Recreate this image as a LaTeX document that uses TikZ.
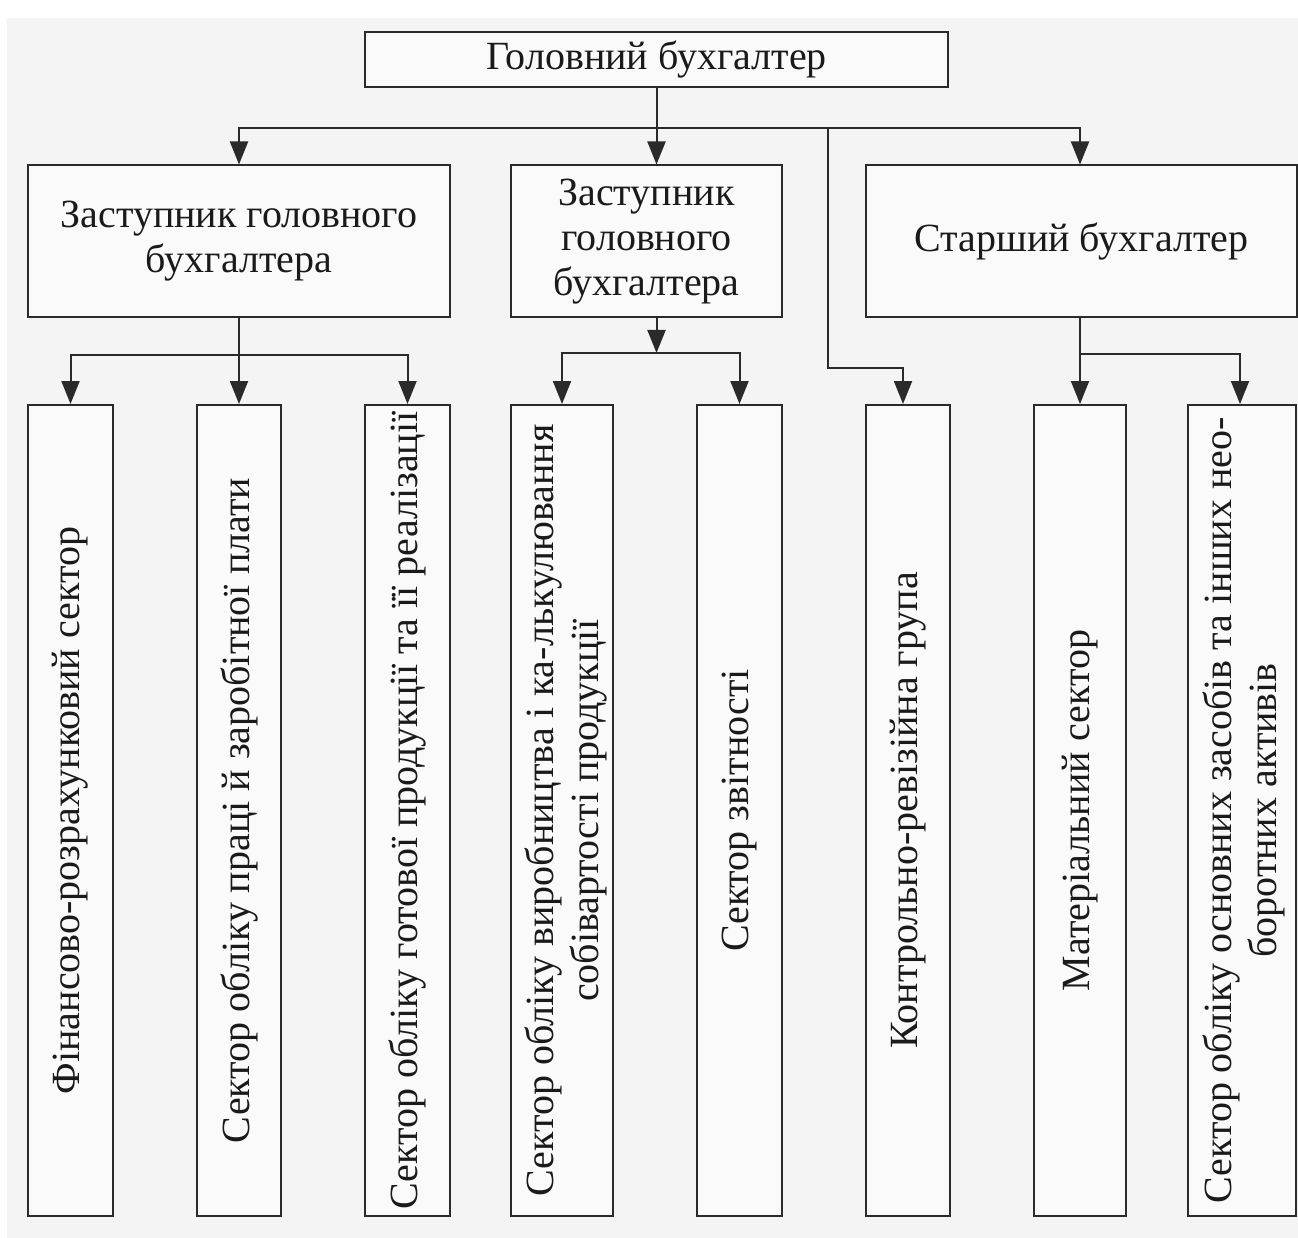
\documentclass[tikz,border=0pt]{standalone}
\usepackage{fontspec}
\setmainfont{Liberation Serif}
\usetikzlibrary{arrows.meta}
\definecolor{bgc}{HTML}{F4F4F4}
\definecolor{boxfill}{HTML}{FAFAFA}
\definecolor{linec}{HTML}{2A2A2A}
\definecolor{txt}{HTML}{1A1A1A}
\begin{document}
\begin{tikzpicture}[x=1pt,y=-1pt,
  box/.style={draw=linec, line width=2pt, fill=boxfill, inner sep=0pt, text=txt},
  htext/.style={align=center, font=\fontsize{40}{45}\selectfont},
  vtext/.style={rotate=90, align=center, text=txt, inner sep=0pt, font=\fontsize{40}{45}\selectfont},
  arr/.style={draw=linec, line width=2pt, -{Triangle[length=23pt,width=18pt]}},
  ln/.style={draw=linec, line width=2pt}]
\useasboundingbox (0,0) rectangle (1298,1238);
\fill[white] (0,0) rectangle (1298,1238);
\fill[bgc] (7,18) rectangle (1298,1238);
% level 1
\node[box, htext, minimum width=583pt, minimum height=55pt] (top) at (656.5,59.5) {Головний бухгалтер};
% level 2
\node[box, htext, minimum width=422pt, minimum height=152pt] (A) at (239,241.5) {Заступник головного\\бухгалтера};
\node[box, htext, minimum width=271pt, minimum height=152pt] (B) at (646.5,241.5) {Заступник\\головного\\бухгалтера};
\node[box, htext, minimum width=431pt, minimum height=152pt] (C) at (1081.5,241.5) {Старший бухгалтер};
% level 3
\node[box, minimum width=85pt,  minimum height=811pt] (s1) at (70.5,810.5) {};
\node[box, minimum width=84pt,  minimum height=811pt] (s2) at (239,810.5) {};
\node[box, minimum width=85pt,  minimum height=811pt] (s3) at (407.5,810.5) {};
\node[box, minimum width=102pt, minimum height=811pt] (s4) at (562,810.5) {};
\node[box, minimum width=85pt,  minimum height=811pt] (s5) at (739.5,810.5) {};
\node[box, minimum width=84pt,  minimum height=811pt] (s6) at (908,810.5) {};
\node[box, minimum width=92pt,  minimum height=811pt] (s7) at (1080,810.5) {};
\node[box, minimum width=108pt, minimum height=811pt] (s8) at (1242,810.5) {};
\node[vtext] (t1) at (s1.center) {Фінансово-розрахунковий сектор};
\node[vtext] (t2) at (s2.center) {Сектор обліку праці й заробітної плати};
\node[vtext] (t3) at (s3.center) {Сектор обліку готової продукції та її реалізації};
\node[vtext] (t4) at ([xshift=4pt]s4.center) {Сектор обліку виробництва і ка-лькулювання\\собівартості продукції};
\node[vtext] (t5) at (s5.center) {Сектор звітності};
\node[vtext] (t6) at (s6.center) {Контрольно-ревізійна група};
\node[vtext] (t7) at (s7.center) {Матеріальний сектор};
\node[vtext] (t8) at ([xshift=2pt]s8.center) {Сектор обліку основних засобів та інших нео-\\боротних активів};
% helper coordinates
\coordinate (busT) at (0,128);
\coordinate (busA) at (0,355);
\coordinate (busB) at (0,353);
\coordinate (busC) at (0,354);
\coordinate (kx) at (828,0);
\coordinate (ky) at (0,368);
\coordinate (k6) at (903,0);
\coordinate (c8) at (1240,0);
% connectors from top
\draw[arr] (top.south) -- (top.south |- B.north);
\draw[arr] (top.south |- busT) -| (A.north);
\draw[arr] (top.south |- busT) -| (C.north -| s7.north);
\draw[arr] (kx |- busT) |- (k6 |- ky) -- (k6 |- s6.north);
% A
\draw[arr] (A.south) -- (A.south |- s2.north);
\draw[arr] (A.south |- busA) -| (s1.north);
\draw[arr] (A.south |- busA) -| (s3.north);
% B
\draw[arr] (top.south |- B.south) -- (top.south |- busB);
\draw[arr] (top.south |- busB) -| (s4.north);
\draw[arr] (top.south |- busB) -| (s5.north);
% C
\draw[arr] (s7.north |- C.south) -- (s7.north);
\draw[arr] (s7.north |- busC) -| (c8 |- s8.north);
\end{tikzpicture}
\end{document}
